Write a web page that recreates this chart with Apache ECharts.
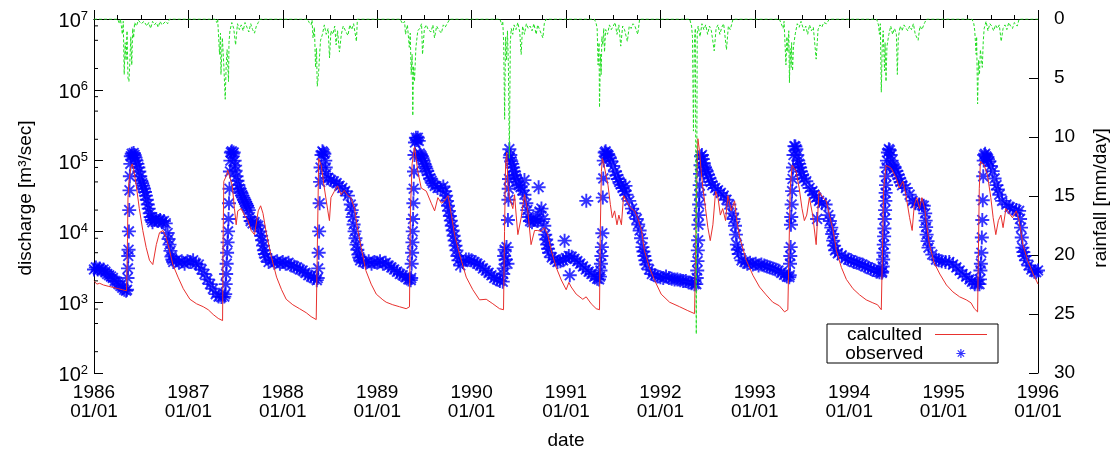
<!DOCTYPE html>
<html>
<head>
<meta charset="utf-8">
<script src="https://cdn.jsdelivr.net/npm/echarts@6/dist/echarts.min.js"></script>
<style>
  html, body { margin: 0; padding: 0; background: #fff; }
  #chart { width: 1117px; height: 455px; }
</style>
</head>
<body>
<div id="chart"></div>
<script>
// Daily discharge at the gauge, 1986-1995 (decimal year, m3/sec)
const observed = [
  [1986.00,2900],[1986.02,3100],[1986.04,2900],[1986.06,3000],[1986.08,2800],[1986.10,2900],[1986.12,2700],[1986.14,2500],[1986.16,2400],[1986.18,2300],[1986.20,2200],[1986.22,2000],[1986.24,1950],[1986.26,1800],[1986.28,1700],[1986.30,1600],[1986.32,1500],[1986.34,1450],[1986.35,1500],
  [1986.355,2200],[1986.36,3000],[1986.363,4500],[1986.366,5500],[1986.37,10000],[1986.373,20000],[1986.376,38000],[1986.38,60000],[1986.385,90000],[1986.39,115000],[1986.40,125000],[1986.41,118000],[1986.42,128000],[1986.43,120000],[1986.44,110000],
  [1986.45,100000],[1986.46,90000],[1986.47,80000],[1986.48,70000],[1986.49,60000],[1986.50,52000],[1986.51,48000],[1986.52,44000],[1986.53,40000],[1986.54,36000],[1986.55,32000],[1986.56,28000],[1986.57,24000],[1986.58,21000],[1986.59,18000],[1986.60,16000],[1986.61,14500],[1986.62,13500],[1986.64,14500],[1986.66,15000],[1986.68,14000],[1986.70,14500],[1986.72,13500],[1986.74,14000],[1986.76,13000],[1986.78,9500],[1986.79,7800],[1986.80,6500],[1986.81,5300],[1986.82,4400],[1986.83,4000],[1986.84,3700],[1986.87,3900],[1986.90,3600],[1986.93,3800],[1986.96,3500],[1986.99,3800],
  [1987.02,3700],[1987.05,3900],[1987.08,3500],[1987.11,3400],[1987.14,2900],[1987.17,2500],[1987.20,2100],[1987.23,1800],[1987.26,1550],[1987.29,1300],[1987.32,1200],[1987.35,1180],[1987.38,1200],
  [1987.39,1300],[1987.395,1800],[1987.40,2500],[1987.405,3500],[1987.41,5000],[1987.415,7000],[1987.42,10000],[1987.425,15000],[1987.43,25000],[1987.435,40000],[1987.44,70000],[1987.445,100000],[1987.45,130000],[1987.46,135000],[1987.47,125000],[1987.48,130000],[1987.49,100000],
  [1987.495,85000],[1987.50,72000],[1987.51,60000],[1987.52,52000],[1987.53,45000],[1987.54,40000],[1987.55,37000],[1987.56,35000],[1987.57,32000],[1987.58,30000],[1987.59,28000],[1987.60,26000],[1987.61,24500],[1987.62,23000],[1987.63,21500],[1987.64,20000],[1987.65,16000],[1987.66,14000],[1987.68,13000],[1987.70,13500],[1987.72,12500],[1987.74,12000],[1987.76,10000],[1987.77,8700],[1987.78,7500],[1987.79,6300],[1987.80,5400],[1987.81,4800],[1987.82,4300],[1987.85,3700],[1987.88,3900],[1987.91,3600],[1987.94,3800],[1987.97,3500],
  [1988.00,3700],[1988.03,3500],[1988.06,3600],[1988.09,3300],[1988.12,3200],[1988.15,3100],[1988.18,2900],[1988.21,2800],[1988.24,2600],[1988.27,2400],[1988.30,2300],[1988.33,2200],[1988.36,2050],
  [1988.37,2200],[1988.375,3000],[1988.38,5000],[1988.385,10000],[1988.39,25000],[1988.395,50000],[1988.40,80000],[1988.41,120000],[1988.42,135000],[1988.43,130000],[1988.44,125000],[1988.45,100000],
  [1988.455,80000],[1988.46,65000],[1988.48,57000],[1988.51,53000],[1988.54,51000],[1988.57,48000],[1988.60,44000],[1988.63,41000],[1988.66,37000],[1988.69,32000],[1988.72,24000],[1988.73,20000],[1988.74,16000],[1988.75,12500],[1988.76,10000],[1988.77,8000],[1988.78,6500],[1988.79,5500],[1988.80,4700],[1988.81,4300],[1988.82,3900],[1988.85,3700],[1988.88,3600],[1988.91,3800],[1988.94,3500],[1988.97,3700],
  [1989.00,3600],[1989.03,3800],[1989.06,3500],[1989.09,3600],[1989.12,3300],[1989.15,3100],[1989.18,2900],[1989.21,2700],[1989.24,2500],[1989.27,2400],[1989.30,2250],[1989.33,2100],[1989.355,2050],
  [1989.36,2200],[1989.365,3500],[1989.37,5000],[1989.373,7000],[1989.376,10000],[1989.38,15000],[1989.383,25000],[1989.386,40000],[1989.39,70000],[1989.395,120000],[1989.40,180000],[1989.41,210000],[1989.42,195000],[1989.43,210000],[1989.44,190000],
  [1989.45,126000],[1989.46,120000],[1989.47,115000],[1989.48,108000],[1989.49,100000],[1989.50,90000],[1989.51,83000],[1989.52,77000],[1989.53,71000],[1989.545,63000],[1989.56,56000],[1989.575,52000],[1989.59,48000],[1989.61,44000],[1989.64,41000],[1989.67,41000],[1989.70,43000],[1989.72,37000],[1989.73,32000],[1989.74,27000],[1989.75,23000],[1989.76,19500],[1989.77,16500],[1989.78,14200],[1989.79,12000],[1989.80,10300],[1989.81,8700],[1989.82,7400],[1989.83,6300],[1989.84,5400],[1989.85,4500],[1989.86,3900],[1989.88,3300],[1989.91,3700],[1989.94,4000],[1989.97,4000],
  [1990.00,3900],[1990.03,3700],[1990.06,3500],[1990.09,3300],[1990.12,3000],[1990.15,2800],[1990.18,2600],[1990.21,2400],[1990.24,2200],[1990.27,2100],[1990.30,2000],[1990.33,1950],
  [1990.335,2500],[1990.34,3000],[1990.345,4500],[1990.35,5500],[1990.36,4000],[1990.37,6000],[1990.38,3500],[1990.385,14500],[1990.39,28000],[1990.393,40000],[1990.396,55000],[1990.40,145000],[1990.405,110000],[1990.41,120000],
  [1990.42,98000],[1990.43,90000],[1990.44,80000],[1990.45,70000],[1990.46,62000],[1990.47,56000],[1990.48,50000],[1990.50,45000],[1990.52,42000],[1990.54,38000],[1990.56,33000],[1990.58,25000],[1990.59,20000],[1990.60,16000],[1990.62,14000],[1990.64,13500],[1990.66,14500],[1990.68,15000],[1990.70,14000],[1990.72,19000],[1990.74,21000],[1990.76,15000],[1990.77,12000],[1990.78,9000],[1990.79,7700],[1990.80,6500],[1990.81,5700],[1990.82,5000],[1990.85,4300],[1990.88,4000],[1990.91,3700],[1990.94,3800],[1990.97,3900],
  [1990.56,53000],[1990.71,42000],[1990.985,7400],[1991.04,2400],[1991.215,27000],
  [1991.00,4200],[1991.03,4500],[1991.06,4400],[1991.09,4100],[1991.12,3800],[1991.15,3500],[1991.18,3200],[1991.21,2900],[1991.24,2700],[1991.27,2500],[1991.30,2300],[1991.33,2150],[1991.35,2100],
  [1991.36,2300],[1991.365,2800],[1991.37,3500],[1991.375,4500],[1991.38,6000],[1991.385,9400],[1991.39,30000],[1991.395,56000],[1991.40,100000],[1991.41,130000],[1991.42,135000],[1991.43,125000],
  [1991.44,122000],[1991.45,118000],[1991.465,108000],[1991.48,98000],[1991.50,84000],[1991.52,70000],[1991.535,62000],[1991.55,55000],[1991.565,50000],[1991.58,46000],[1991.60,41000],[1991.62,37000],[1991.63,44000],[1991.64,33000],[1991.67,27000],[1991.70,21000],[1991.72,18000],[1991.75,15000],[1991.765,12500],[1991.78,10300],[1991.795,8000],[1991.81,6000],[1991.82,5200],[1991.83,4500],[1991.84,3900],[1991.85,3400],[1991.88,2900],[1991.91,2500],[1991.94,2400],[1991.97,2300],
  [1992.00,2260],[1992.03,2200],[1992.06,2300],[1992.09,2200],[1992.12,2150],[1992.15,2100],[1992.18,2100],[1992.21,2050],[1992.24,2000],[1992.27,2000],[1992.30,1900],[1992.33,1850],[1992.36,1800],[1992.38,1800],
  [1992.385,2200],[1992.39,2800],[1992.393,3800],[1992.396,5400],[1992.40,7500],[1992.403,12400],[1992.406,17000],[1992.41,24000],[1992.413,33000],[1992.416,45000],[1992.42,65000],[1992.425,86000],[1992.43,115000],[1992.44,120000],[1992.45,105000],
  [1992.46,92000],[1992.47,80000],[1992.48,75000],[1992.49,70000],[1992.505,63000],[1992.52,56000],[1992.535,50000],[1992.55,45000],[1992.58,41000],[1992.61,38000],[1992.64,35000],[1992.67,32000],[1992.70,28000],[1992.73,24000],[1992.76,18000],[1992.775,15000],[1992.79,12000],[1992.80,9000],[1992.81,6500],[1992.82,5500],[1992.83,4800],[1992.86,3900],[1992.89,3700],[1992.92,3500],[1992.95,3600],[1992.98,3400],
  [1993.01,3500],[1993.04,3300],[1993.07,3400],[1993.10,3300],[1993.13,3200],[1993.16,3100],[1993.19,3000],[1993.22,2900],[1993.25,2800],[1993.28,2600],[1993.31,2450],[1993.34,2300],[1993.365,2250],
  [1993.37,2400],[1993.373,3500],[1993.376,4500],[1993.38,6000],[1993.383,12400],[1993.386,16000],[1993.39,24000],[1993.395,37000],[1993.40,55000],[1993.405,80000],[1993.41,120000],[1993.42,160000],[1993.43,158000],[1993.44,145000],
  [1993.45,120000],[1993.46,100000],[1993.47,90000],[1993.48,80000],[1993.49,70000],[1993.50,62000],[1993.52,56000],[1993.545,51000],[1993.58,41000],[1993.61,37000],[1993.63,33000],[1993.65,30000],[1993.66,15000],[1993.68,27000],[1993.71,25000],[1993.75,24000],[1993.78,17000],[1993.795,14000],[1993.81,11300],[1993.82,9200],[1993.83,7400],[1993.84,6300],[1993.85,5400],[1993.88,4900],[1993.92,4600],[1993.96,4200],[1993.99,4000],
  [1994.02,3900],[1994.05,3700],[1994.08,3600],[1994.11,3500],[1994.14,3400],[1994.17,3200],[1994.20,3100],[1994.23,2950],[1994.26,2850],[1994.29,2700],[1994.32,2650],[1994.345,2600],
  [1994.35,2700],[1994.355,3200],[1994.36,4000],[1994.363,5000],[1994.366,6500],[1994.37,8500],[1994.373,11000],[1994.376,15000],[1994.38,20000],[1994.383,27000],[1994.386,35000],[1994.39,45000],[1994.393,60000],[1994.396,80000],[1994.40,100000],[1994.41,130000],[1994.42,145000],[1994.43,140000],[1994.44,120000],
  [1994.45,100000],[1994.46,86000],[1994.47,82000],[1994.48,78000],[1994.50,71000],[1994.515,63000],[1994.53,56000],[1994.545,50000],[1994.56,45000],[1994.60,41000],[1994.64,33000],[1994.67,27000],[1994.70,25000],[1994.74,24000],[1994.77,23500],[1994.79,23000],[1994.805,18000],[1994.81,14200],[1994.815,11500],[1994.82,9000],[1994.83,7300],[1994.84,5900],[1994.88,4700],[1994.92,4000],[1994.95,3900],[1994.98,3800],
  [1995.02,3700],[1995.06,3700],[1995.10,3400],[1995.135,3100],[1995.17,2800],[1995.20,2500],[1995.24,2300],[1995.275,2100],[1995.30,1950],[1995.33,1800],[1995.36,1800],[1995.38,1800],
  [1995.385,2100],[1995.39,2800],[1995.395,3500],[1995.40,5000],[1995.405,8200],[1995.41,14500],[1995.415,27500],[1995.42,60000],[1995.425,100000],[1995.43,120000],[1995.44,125000],[1995.45,115000],
  [1995.46,110000],[1995.47,105000],[1995.485,98000],[1995.50,84000],[1995.52,71000],[1995.54,56000],[1995.56,45000],[1995.575,39000],[1995.59,33000],[1995.62,27000],[1995.665,24000],[1995.70,22000],[1995.73,21000],[1995.77,20000],[1995.80,19500],[1995.81,15000],[1995.82,11300],[1995.828,8200],[1995.835,5900],[1995.845,5100],[1995.855,4500],[1995.875,3900],[1995.90,3300],[1995.93,2900],[1995.96,2700],[1995.98,2650],[1996.00,2800]
];

// Simulated discharge (decimal year, m3/sec)
const calculated = [
  [1986.00,2000],[1986.03,1800],[1986.06,1850],[1986.10,1750],[1986.15,1680],[1986.20,1620],[1986.25,1560],[1986.30,1500],[1986.345,1450],[1986.355,8000],[1986.36,30000],[1986.37,51000],[1986.39,80000],[1986.405,90000],[1986.42,75000],[1986.447,45000],[1986.48,21000],[1986.517,10300],[1986.553,5900],[1986.588,3900],[1986.623,3400],[1986.66,6500],[1986.694,9600],[1986.73,10300],[1986.765,8200],[1986.80,5400],[1986.835,3400],[1986.89,2260],[1986.946,1550],
  [1987.016,1100],[1987.086,950],[1987.157,863],[1987.21,783],[1987.263,670],[1987.316,590],[1987.362,550],[1987.368,8000],[1987.375,51000],[1987.40,60000],[1987.417,73000],[1987.435,75000],[1987.464,45000],[1987.488,21000],[1987.506,12400],[1987.523,19500],[1987.56,21000],[1987.594,17000],[1987.63,14200],[1987.665,10300],[1987.70,9000],[1987.74,19500],[1987.765,23000],[1987.79,18000],[1987.828,9000],[1987.88,4300],[1987.934,2260],[1987.987,1500],
  [1988.036,1100],[1988.106,920],[1988.177,810],[1988.248,710],[1988.30,625],[1988.354,568],[1988.365,600],[1988.372,20000],[1988.38,107000],[1988.407,86000],[1988.44,41000],[1988.477,19500],[1988.494,14200],[1988.51,30000],[1988.547,37000],[1988.58,44000],[1988.618,33000],[1988.65,38000],[1988.69,32000],[1988.72,30000],[1988.76,21000],[1988.79,11300],[1988.83,5900],[1988.88,2800],[1988.936,1800],[1988.99,1300],
  [1989.06,1080],[1989.095,1000],[1989.165,920],[1989.236,863],[1989.307,810],[1989.342,860],[1989.352,20000],[1989.37,90000],[1989.395,156000],[1989.43,71000],[1989.466,41000],[1989.52,37000],[1989.573,25000],[1989.608,19500],[1989.643,30000],[1989.68,25000],[1989.714,27000],[1989.75,32000],[1989.786,17000],[1989.82,9000],[1989.873,4700],[1989.943,2260],
  [1990.013,1500],[1990.084,1080],[1990.155,1100],[1990.225,950],[1990.296,810],[1990.338,783],[1990.349,10000],[1990.36,90000],[1990.373,130000],[1990.385,45000],[1990.40,30000],[1990.437,21000],[1990.455,33000],[1990.472,17000],[1990.49,9000],[1990.525,15600],[1990.56,33000],[1990.595,19500],[1990.63,6500],[1990.667,10300],[1990.70,10300],[1990.735,10000],[1990.77,11300],[1990.807,9000],[1990.843,5400],[1990.896,3100],[1990.95,2060],
  [1991.002,1500],[1991.03,1900],[1991.055,1640],[1991.108,1300],[1991.178,1100],[1991.214,1190],[1991.267,950],[1991.32,810],[1991.355,783],[1991.363,10000],[1991.375,70000],[1991.385,107000],[1991.40,90000],[1991.445,45000],[1991.47,24000],[1991.49,15600],[1991.515,19500],[1991.54,12400],[1991.56,17000],[1991.587,12400],[1991.61,32000],[1991.64,27000],[1991.69,21000],[1991.727,19500],[1991.76,15600],[1991.80,10300],[1991.83,5400],[1991.883,3100],[1991.937,2060],
  [1992.008,1300],[1992.097,1000],[1992.203,863],[1992.29,760],[1992.362,690],[1992.38,700],[1992.385,50000],[1992.397,204000],[1992.415,134000],[1992.432,71000],[1992.45,41000],[1992.478,21000],[1992.503,11300],[1992.528,7400],[1992.556,12400],[1992.585,37000],[1992.61,30000],[1992.635,17000],[1992.66,21000],[1992.69,14200],[1992.715,32000],[1992.75,19500],[1992.786,27000],[1992.805,15600],[1992.84,8200],[1992.91,3900],[1992.98,2400],
  [1993.05,1640],[1993.12,1270],[1993.19,1000],[1993.26,890],[1993.315,730],[1993.35,783],[1993.367,800],[1993.375,40000],[1993.395,86000],[1993.437,71000],[1993.47,41000],[1993.50,21000],[1993.525,14200],[1993.55,17000],[1993.578,30000],[1993.613,17000],[1993.65,6500],[1993.68,37000],[1993.72,30000],[1993.757,27000],[1993.79,17000],[1993.83,10300],[1993.864,5400],[1993.917,3100],[1993.97,2100],
  [1994.04,1550],[1994.11,1270],[1994.18,1080],[1994.25,980],[1994.30,920],[1994.34,783],[1994.355,800],[1994.365,40000],[1994.39,86000],[1994.445,78000],[1994.50,56000],[1994.53,41000],[1994.57,51000],[1994.60,33000],[1994.64,15600],[1994.667,10300],[1994.69,24000],[1994.716,30000],[1994.745,21000],[1994.77,30000],[1994.80,21000],[1994.82,12400],[1994.85,6500],[1994.90,3600],[1994.96,2500],
  [1995.03,1750],[1995.098,1400],[1995.17,1190],[1995.24,1080],[1995.29,980],[1995.326,810],[1995.36,730],[1995.37,740],[1995.378,40000],[1995.39,98000],[1995.43,86000],[1995.465,62000],[1995.50,30000],[1995.525,15600],[1995.553,9000],[1995.58,14200],[1995.607,17000],[1995.63,11300],[1995.66,21000],[1995.695,18000],[1995.73,15600],[1995.77,19500],[1995.80,14200],[1995.84,6500],[1995.89,3900],[1995.95,2500],[1996.00,1800]
];

// Basin rainfall (decimal year, mm/day)
const rainfall = [
  [1986.00,0],[1986.25,0],[1986.27,0.4],[1986.28,0],[1986.29,0.6],[1986.30,1.3],[1986.31,0.2],[1986.32,4.7],[1986.33,2.0],[1986.34,3.5],[1986.35,1.0],[1986.36,5.0],[1986.37,5.3],[1986.38,3.6],[1986.39,1.5],[1986.40,3.9],[1986.41,0.8],[1986.42,1.6],[1986.43,0.3],[1986.45,0.6],[1986.47,0.1],[1986.50,0.4],[1986.53,0.2],[1986.56,0.6],[1986.58,0.3],[1986.60,0.8],[1986.62,0.2],[1986.64,0.5],[1986.66,0.3],[1986.68,0.7],[1986.70,0.2],[1986.72,0.5],[1986.74,0.6],[1986.76,0.2],[1986.78,0.4],[1986.80,0],
  [1987.28,0],[1987.30,0.3],[1987.31,0],[1987.33,3.0],[1987.34,1.2],[1987.345,4.7],[1987.36,1.6],[1987.375,3.9],[1987.39,6.8],[1987.40,4.0],[1987.41,2.6],[1987.425,5.3],[1987.43,2.0],[1987.44,1.0],[1987.46,0.3],[1987.48,0.8],[1987.50,2.2],[1987.52,0.4],[1987.54,0.9],[1987.56,0.5],[1987.58,1.0],[1987.60,0.3],[1987.62,0.7],[1987.64,1.1],[1987.66,0.4],[1987.68,0.9],[1987.70,1.2],[1987.72,0.6],[1987.74,0.3],[1987.76,0],
  [1988.26,0],[1988.28,0.3],[1988.30,0.5],[1988.31,0.1],[1988.32,1.6],[1988.335,0.7],[1988.347,4.1],[1988.357,2.5],[1988.365,5.7],[1988.378,4.7],[1988.39,3.0],[1988.40,1.8],[1988.42,1.3],[1988.44,0.5],[1988.46,1.3],[1988.48,0.8],[1988.495,3.3],[1988.51,1.0],[1988.53,1.3],[1988.55,0.6],[1988.565,2.2],[1988.58,1.0],[1988.60,2.8],[1988.62,1.3],[1988.64,0.6],[1988.67,1.1],[1988.69,1.4],[1988.71,0.5],[1988.73,0.9],[1988.75,0.4],[1988.78,1.9],[1988.79,0],
  [1989.24,0],[1989.27,0.4],[1989.29,0.2],[1989.30,1.3],[1989.32,0.5],[1989.34,2.4],[1989.35,1.2],[1989.36,4.7],[1989.37,3.0],[1989.377,8.2],[1989.385,4.0],[1989.395,5.3],[1989.41,2.4],[1989.43,1.0],[1989.45,0.8],[1989.47,0.4],[1989.48,3.0],[1989.50,0.8],[1989.52,0.5],[1989.54,0.9],[1989.57,1.1],[1989.59,0.5],[1989.607,1.6],[1989.63,0.6],[1989.65,0.9],[1989.68,1.2],[1989.70,0.5],[1989.72,0.7],[1989.74,0.4],[1989.77,0],
  [1990.30,0],[1990.32,0.5],[1990.33,0.2],[1990.34,2.0],[1990.35,8.5],[1990.36,1.5],[1990.37,3.5],[1990.38,1.0],[1990.39,4.0],[1990.40,11.8],[1990.41,2.0],[1990.42,0.8],[1990.436,1.3],[1990.45,0.5],[1990.47,0.9],[1990.49,0.3],[1990.51,1.1],[1990.525,3.0],[1990.54,0.6],[1990.56,1.3],[1990.58,0.4],[1990.60,0.8],[1990.62,0.6],[1990.64,1.0],[1990.66,0.4],[1990.684,1.3],[1990.70,0.5],[1990.72,0.9],[1990.755,1.6],[1990.77,0.4],[1990.79,0],
  [1991.30,0],[1991.32,0.4],[1991.33,0.8],[1991.34,3.9],[1991.35,2.0],[1991.355,7.5],[1991.365,3.0],[1991.373,4.7],[1991.38,1.5],[1991.39,2.2],[1991.40,0.8],[1991.408,2.8],[1991.42,0.9],[1991.44,1.3],[1991.46,0.5],[1991.48,0.9],[1991.50,0.6],[1991.52,0.3],[1991.54,1.3],[1991.56,0.5],[1991.58,2.3],[1991.60,0.6],[1991.62,0.9],[1991.65,1.9],[1991.67,0.6],[1991.69,0.8],[1991.71,0.4],[1991.73,0.6],[1991.76,1.3],[1991.78,0],
  [1992.31,0],[1992.33,0.6],[1992.34,1.5],[1992.35,9.5],[1992.36,2.0],[1992.37,0.8],[1992.38,26.7],[1992.39,1.2],[1992.40,0.6],[1992.42,1.5],[1992.44,0.4],[1992.46,0.9],[1992.48,0.5],[1992.50,1.3],[1992.52,0.6],[1992.54,1.0],[1992.57,2.7],[1992.59,0.8],[1992.61,0.5],[1992.63,1.3],[1992.65,0.7],[1992.67,0.4],[1992.70,2.6],[1992.72,0.6],[1992.74,0.9],[1992.76,0.3],[1992.77,0],
  [1993.26,0],[1993.28,0.4],[1993.30,0.8],[1993.31,0.2],[1993.33,3.9],[1993.34,1.5],[1993.35,2.8],[1993.36,1.0],[1993.367,5.4],[1993.375,2.5],[1993.385,4.1],[1993.39,2.0],[1993.40,4.4],[1993.41,2.3],[1993.43,1.2],[1993.45,0.4],[1993.47,0.7],[1993.49,0.2],[1993.52,1.0],[1993.54,0.6],[1993.56,1.3],[1993.58,0.5],[1993.60,1.0],[1993.62,0.7],[1993.65,3.4],[1993.67,0.9],[1993.69,0.5],[1993.71,0.7],[1993.73,0.3],[1993.76,0.4],[1993.79,0],
  [1994.29,0],[1994.31,0.5],[1994.32,1.3],[1994.33,0.4],[1994.34,6.2],[1994.35,2.3],[1994.36,1.0],[1994.374,4.4],[1994.38,2.0],[1994.39,5.3],[1994.40,2.3],[1994.42,1.3],[1994.44,0.6],[1994.46,1.3],[1994.48,0.8],[1994.50,1.3],[1994.51,4.7],[1994.52,1.6],[1994.54,0.6],[1994.56,1.0],[1994.58,0.5],[1994.60,0.4],[1994.62,1.0],[1994.64,0.6],[1994.66,0.9],[1994.68,0.4],[1994.70,1.3],[1994.73,1.8],[1994.75,0.6],[1994.77,0.9],[1994.80,0.3],[1994.82,0],
  [1995.30,0],[1995.32,0.4],[1995.33,1.0],[1995.345,3.0],[1995.35,1.5],[1995.36,7.2],[1995.37,3.5],[1995.38,4.7],[1995.39,2.6],[1995.41,4.1],[1995.42,1.9],[1995.43,0.8],[1995.45,0.2],[1995.47,1.0],[1995.49,0.4],[1995.51,0.6],[1995.53,1.0],[1995.55,0.5],[1995.57,0.8],[1995.59,0.5],[1995.61,1.9],[1995.63,0.8],[1995.65,0.5],[1995.67,0.9],[1995.69,0.3],[1995.71,0.6],[1995.73,0.8],[1995.75,0.3],[1995.78,0.6],[1995.80,0],[1996.00,0]
];

// Axis ranges and tick texts
const yearRange = [1986, 1996];
const tickDayLabel = '01/01';
const dischargeRange = [100, 1e7];
const rainRange = [0, 30];
const minorLogTicks = [200, 500, 800, 2000, 5000, 8000, 20000, 50000, 80000,
  200000, 500000, 800000, 2000000, 5000000, 8000000];
const seriesNames = ['calculted', 'observed'];

const FONT = '"Liberation Sans", Arial, Helvetica, sans-serif';
const ASTERISK = 'path://M5,0L5,10M0,5L10,5M1.5,1.5L8.5,8.5M8.5,1.5L1.5,8.5';
const RED = '#e8312e';
const BLUE = '#0000ff';

const chart = echarts.init(document.getElementById('chart'), null, { renderer: 'canvas' });

const axisLineStyle = { color: '#000', width: 1 };

chart.setOption({
  animation: false,
  backgroundColor: '#fff',
  grid: { left: 94, right: 79, top: 19, bottom: 78, containLabel: false },
  xAxis: [
    {
      type: 'value', position: 'bottom', min: yearRange[0], max: yearRange[1], interval: 1,
      axisLine: { lineStyle: axisLineStyle },
      axisTick: { inside: true, length: 9, lineStyle: axisLineStyle },
      minorTick: { show: true, splitNumber: 4, length: 4, lineStyle: axisLineStyle },
      splitLine: { show: false },
      axisLabel: {
        formatter: v => v + '\n' + tickDayLabel,
        fontFamily: FONT, fontSize: 19, lineHeight: 19, color: '#000', margin: 10
      },
      name: 'date', nameLocation: 'middle', nameGap: 58,
      nameTextStyle: { fontFamily: FONT, fontSize: 19, color: '#000' }
    },
    {
      type: 'value', position: 'top', min: yearRange[0], max: yearRange[1], interval: 1,
      axisLine: { lineStyle: axisLineStyle },
      axisTick: { inside: true, length: 9, lineStyle: axisLineStyle },
      axisLabel: { show: false },
      splitLine: { show: false }
    }
  ],
  yAxis: [
    {
      type: 'log', logBase: 10, position: 'left', min: dischargeRange[0], max: dischargeRange[1],
      splitNumber: 5,
      axisLine: { lineStyle: axisLineStyle },
      axisTick: { inside: true, length: 9, lineStyle: axisLineStyle },
      splitLine: { show: false },
      axisLabel: {
        formatter: v => '{b|10}{s|' + Math.round(Math.log10(v)) + '}',
        margin: 6,
        padding: [5, 0, 0, 0],
        rich: {
          b: { fontFamily: FONT, fontSize: 20, color: '#000' },
          s: { fontFamily: FONT, fontSize: 13, color: '#000', padding: [0, 0, 11, 0] }
        }
      }
    },
    {
      type: 'value', position: 'right', inverse: true, min: rainRange[0], max: rainRange[1], interval: 5,
      axisLine: { lineStyle: axisLineStyle },
      axisTick: { inside: true, length: 9, lineStyle: axisLineStyle },
      splitLine: { show: false },
      axisLabel: { fontFamily: FONT, fontSize: 19, color: '#000', margin: 16 }
    }
  ],
  legend: [
    {
      data: [{ name: seriesNames[0], icon: 'rect' }], right: 130, top: 325, padding: 0, align: 'right',
      itemWidth: 52, itemHeight: 1, selectedMode: false, z: 6,
      itemStyle: { color: RED, borderWidth: 0 },
      textStyle: { fontFamily: FONT, fontSize: 19, color: '#000', padding: [0, 8, 0, 0] }
    },
    {
      data: [{ name: seriesNames[1], icon: ASTERISK }], right: 151, top: 344, padding: 0, align: 'right',
      itemWidth: 9, itemHeight: 9, selectedMode: false, z: 6,
      itemStyle: { color: 'rgba(0,0,0,0)', borderColor: BLUE, borderWidth: 1.2 },
      textStyle: { fontFamily: FONT, fontSize: 19, color: '#000', padding: [0, 28, 0, 0] }
    }
  ],
  graphic: [
    {
      type: 'rect', z: 5, silent: true,
      shape: { x: 827, y: 324, width: 171, height: 39 },
      style: { fill: '#fff', stroke: '#000', lineWidth: 1 }
    },
    {
      type: 'text', x: 26, y: 198, rotation: Math.PI / 2, silent: true,
      style: { text: 'discharge [m³/sec]', font: '19px ' + FONT, fill: '#000', textAlign: 'center', textVerticalAlign: 'middle' }
    },
    {
      type: 'text', x: 1101, y: 198, rotation: Math.PI / 2, silent: true,
      style: { text: 'rainfall [mm/day]', font: '19px ' + FONT, fill: '#000', textAlign: 'center', textVerticalAlign: 'middle' }
    }
  ],
  series: [
    {
      name: seriesNames[1], type: 'scatter', xAxisIndex: 0, yAxisIndex: 0,
      data: observed, symbol: ASTERISK, symbolSize: 14, z: 2,
      itemStyle: { color: 'rgba(0,0,0,0)', borderColor: BLUE, borderWidth: 1.9 },
      emphasis: { disabled: true }, silent: true
    },
    {
      name: seriesNames[0], type: 'line', xAxisIndex: 0, yAxisIndex: 0,
      data: calculated, symbol: 'none', z: 3,
      lineStyle: { color: RED, width: 1 },
      itemStyle: { color: RED },
      emphasis: { disabled: true }, silent: true
    },
    {
      name: 'rainfall', type: 'line', xAxisIndex: 0, yAxisIndex: 1,
      data: rainfall, symbol: 'none', z: 4,
      lineStyle: { color: '#22dd22', width: 1, type: [3, 2] },
      emphasis: { disabled: true }, silent: true
    },
    {
      name: 'minor log ticks', type: 'custom', xAxisIndex: 0, yAxisIndex: 0, silent: true, z: 5,
      data: minorLogTicks.map(v => [yearRange[0], v]),
      renderItem: (params, api) => {
        const p = api.coord([api.value(0), api.value(1)]);
        return {
          type: 'line',
          shape: { x1: p[0], y1: p[1], x2: p[0] + 4, y2: p[1] },
          style: { stroke: '#000', lineWidth: 1 }
        };
      }
    }
  ]
});
</script>
</body>
</html>
